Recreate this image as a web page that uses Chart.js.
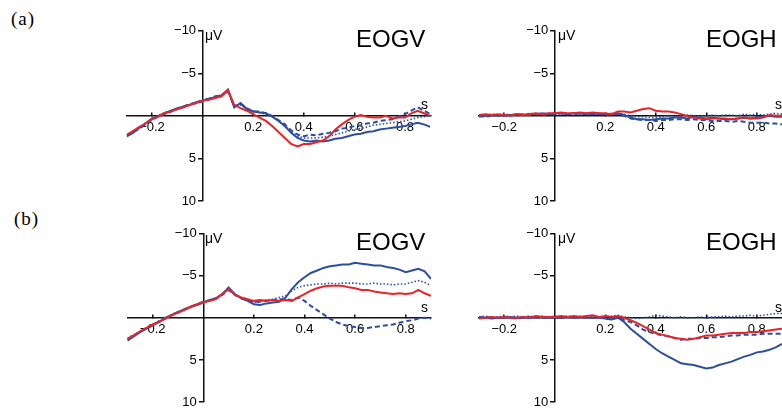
<!DOCTYPE html>
<html lang="en">
<head>
  <meta charset="UTF-8">
  <title>EOGV / EOGH</title>
  <style>
    body {
      margin: 0;
      background: #fff;
      width: 782px;
      height: 412px;
      position: relative;
      overflow: hidden;
      font-family: "Liberation Sans", Arial, sans-serif;
    }
    canvas { position: absolute; }
    .lbl { position: absolute; line-height: 1; white-space: nowrap; color: #000; }
    .panel { font-family: "Liberation Serif", "Times New Roman", serif; font-size: 19px; letter-spacing: 1px; }
    .title { font-size: 24px; }
    .unit { font-size: 14px; }
  </style>
</head>
<body>

  <canvas id="aV" width="340" height="205" style="left:100px; top:10px;"></canvas>
  <canvas id="aH" width="337" height="205" style="left:445px; top:10px;"></canvas>
  <canvas id="bV" width="340" height="197" style="left:100px; top:215px;"></canvas>
  <canvas id="bH" width="337" height="197" style="left:445px; top:215px;"></canvas>

  <div class="lbl panel" style="left:11px; top:9px;">(a)</div>
  <div class="lbl panel" style="left:14px; top:209px;">(b)</div>

  <div class="lbl title" style="left:356px; top:27px;">EOGV</div>
  <div class="lbl title" style="left:706px; top:27px;">EOGH</div>
  <div class="lbl title" style="left:356px; top:230px;">EOGV</div>
  <div class="lbl title" style="left:706px; top:230px;">EOGH</div>

  <div class="lbl unit" style="left:205px; top:28px;">μV</div>
  <div class="lbl unit" style="left:558px; top:28px;">μV</div>
  <div class="lbl unit" style="left:205px; top:231px;">μV</div>
  <div class="lbl unit" style="left:558px; top:231px;">μV</div>

  <div class="lbl unit" style="left:421px; top:97px;">s</div>
  <div class="lbl unit" style="left:775px; top:97px;">s</div>
  <div class="lbl unit" style="left:421px; top:300px;">s</div>
  <div class="lbl unit" style="left:775px; top:300px;">s</div>

  <script src="https://cdn.jsdelivr.net/npm/chart.js"></script>

  <script>
    // time axis (s)
    const times = [-0.3, -0.275, -0.25, -0.225, -0.2, -0.175, -0.15, -0.125, -0.1, -0.075, -0.05, -0.025,
      0, 0.025, 0.05, 0.075, 0.1, 0.125, 0.15, 0.175, 0.2, 0.225, 0.25, 0.275,
      0.3, 0.325, 0.35, 0.375, 0.4, 0.425, 0.45, 0.475, 0.5, 0.525, 0.55, 0.575,
      0.6, 0.625, 0.65, 0.675, 0.7, 0.725, 0.75, 0.775, 0.8, 0.825, 0.85, 0.875, 0.9];

    const xTicks = [-0.2, 0.2, 0.4, 0.6, 0.8];
    const xTickLabels = ['\u22120.2', '0.2', '0.4', '0.6', '0.8'];
    const yTicks = [-10, -5, 5, 10];
    // en space at the end keeps the label clear of the axis line
    const yTickLabels = ['\u221210\u2002', '\u22125\u2002', '5\u2002', '10\u2002'];

    // (a) EOGV, µV
    const aV_red = [2.2, 1.8, 1.3, 0.9, 0.4, 0.1, -0.3, -0.5, -0.8, -1.0, -1.3, -1.5,
      -1.8, -1.9, -2.1, -2.3, -3.0, -1.3, -0.9, -0.6, -0.2, 0.2, 0.6, 1.2,
      1.9, 2.6, 3.3, 3.6, 3.3, 3.3, 3.1, 2.9, 2.4, 1.6, 1.0, 0.5,
      0.1, -0.1, 0.1, 0.2, 0.2, 0.0, 0.3, 0.2, 0.2, -0.3, -0.6, -0.3, 0.0];
    const aV_solid = [2.4, 2.0, 1.4, 0.9, 0.3, 0.0, -0.3, -0.6, -0.9, -1.1, -1.3, -1.6,
      -1.8, -2.0, -2.2, -2.4, -3.1, -1.0, -1.5, -0.8, -0.5, -0.4, -0.3, 0.1,
      0.6, 1.2, 2.0, 2.6, 2.9, 3.0, 2.9, 3.0, 2.9, 2.7, 2.6, 2.4,
      2.2, 2.1, 1.9, 1.8, 1.6, 1.5, 1.4, 1.3, 1.2, 1.0, 0.8, 1.0, 1.3];
    const aV_dashed = [2.3, 1.9, 1.5, 1.0, 0.4, 0.1, -0.2, -0.5, -0.8, -1.1, -1.4, -1.5,
      -1.7, -2.0, -2.3, -2.4, -3.0, -1.1, -1.4, -0.9, -0.5, -0.5, -0.3, 0.0,
      0.5, 1.0, 1.7, 2.2, 2.4, 2.2, 2.3, 2.1, 2.0, 1.8, 1.5, 1.4,
      1.2, 1.1, 0.9, 0.8, 0.6, 0.5, 0.4, 0.1, -0.2, -0.6, -1.0, -0.6, -0.2];
    const aV_dotted = [2.3, 1.8, 1.4, 0.8, 0.4, 0.0, -0.4, -0.6, -0.8, -1.0, -1.3, -1.6,
      -1.9, -2.0, -2.2, -2.5, -2.9, -1.2, -1.3, -0.8, -0.6, -0.4, -0.2, 0.1,
      0.6, 1.2, 1.9, 2.4, 2.6, 2.6, 2.6, 2.5, 2.4, 2.2, 2.0, 1.8,
      1.6, 1.5, 1.3, 1.1, 1.0, 0.9, 0.8, 0.7, 0.6, 0.4, 0.2, 0.1, 0.0];

    // (a) EOGH
    const aH_red = [-0.1, -0.2, -0.1, -0.2, -0.1, 0.0, -0.2, -0.1, -0.2, -0.3, -0.2, -0.3,
      -0.3, -0.4, -0.3, -0.3, -0.4, -0.3, -0.4, -0.3, -0.3, -0.2, -0.5, -0.5,
      -0.4, -0.6, -0.8, -0.9, -0.6, -0.5, -0.5, -0.4, -0.2, 0.0, 0.2, 0.3,
      0.4, 0.3, 0.3, 0.3, 0.4, 0.3, 0.2, 0.3, 0.3, 0.2, -0.1, 0.0, 0.0];
    const aH_solid = [0.1, 0.0, -0.1, 0.0, -0.1, -0.1, -0.2, -0.1, -0.2, -0.2, -0.3, -0.2,
      -0.3, -0.3, -0.2, -0.3, -0.3, -0.2, -0.3, -0.2, -0.2, -0.2, -0.3, -0.1,
      0.2, 0.4, 0.4, 0.5, 0.4, 0.3, 0.3, 0.2, 0.2, 0.3, 0.1, 0.2,
      0.3, 0.2, 0.3, 0.4, 0.4, 0.3, 0.2, 0.3, 0.2, 0.1, 0.0, 0.1, 0.1];
    const aH_dashed = [0.0, 0.1, 0.0, -0.1, 0.0, -0.1, -0.1, -0.2, -0.1, -0.2, -0.1, -0.2,
      -0.2, -0.3, -0.2, -0.2, -0.3, -0.2, -0.2, -0.3, -0.1, -0.2, -0.2, 0.0,
      0.3, 0.4, 0.5, 0.5, 0.6, 0.5, 0.5, 0.4, 0.4, 0.5, 0.4, 0.5,
      0.5, 0.6, 0.6, 0.6, 0.7, 0.6, 0.7, 0.8, 0.8, 0.8, 0.9, 0.9, 1.0];
    const aH_dotted = [-0.1, 0.0, -0.2, -0.1, -0.2, -0.1, -0.2, -0.1, -0.3, -0.2, -0.2, -0.3,
      -0.2, -0.3, -0.2, -0.3, -0.2, -0.3, -0.2, -0.3, -0.2, -0.3, -0.2, -0.2,
      0.0, 0.1, 0.1, 0.2, 0.2, 0.1, 0.0, 0.1, 0.0, -0.1, 0.0, 0.0,
      0.0, -0.1, 0.0, -0.1, -0.1, 0.0, -0.2, -0.1, -0.2, -0.1, -0.2, -0.3, -0.2];

    // (b) EOGV
    const bV_red = [2.5, 2.1, 1.6, 1.2, 0.8, 0.5, 0.1, -0.3, -0.6, -0.9, -1.3, -1.6,
      -1.8, -2.0, -2.2, -2.8, -3.4, -2.7, -2.4, -2.2, -2.0, -2.1, -2.0, -2.1,
      -2.0, -2.1, -2.0, -2.4, -2.8, -3.2, -3.5, -3.7, -3.8, -3.8, -3.8, -3.6,
      -3.5, -3.3, -3.3, -3.1, -3.0, -2.9, -2.8, -2.9, -2.8, -2.9, -3.3, -2.9, -2.6];
    const bV_solid = [2.7, 2.2, 1.7, 1.3, 0.9, 0.5, 0.0, -0.3, -0.7, -1.0, -1.3, -1.5,
      -1.8, -2.1, -2.3, -2.8, -3.6, -2.8, -2.3, -2.0, -1.6, -1.5, -1.7, -1.8,
      -1.9, -2.4, -3.4, -4.2, -4.8, -5.3, -5.6, -5.9, -6.1, -6.2, -6.3, -6.3,
      -6.5, -6.4, -6.3, -6.2, -6.2, -6.0, -5.9, -5.7, -5.4, -5.6, -5.8, -5.5, -4.6];
    const bV_dashed = [2.6, 2.1, 1.7, 1.2, 0.9, 0.4, 0.1, -0.3, -0.6, -1.0, -1.3, -1.6,
      -1.9, -2.0, -2.3, -2.7, -3.3, -2.7, -2.3, -2.1, -1.9, -1.9, -2.0, -2.1,
      -2.2, -2.2, -2.1, -2.4, -2.0, -1.4, -0.9, -0.4, 0.1, 0.5, 0.8, 1.0,
      1.1, 1.2, 1.2, 1.1, 1.0, 0.9, 0.8, 0.6, 0.4, 0.3, 0.1, 0.0, 0.1];
    const bV_dotted = [2.4, 2.0, 1.6, 1.3, 0.8, 0.4, 0.1, -0.4, -0.7, -1.0, -1.2, -1.5,
      -1.9, -2.1, -2.2, -2.9, -3.4, -2.7, -2.4, -2.2, -1.8, -1.9, -2.1, -2.2,
      -2.4, -2.6, -3.2, -3.6, -3.8, -3.9, -4.0, -4.0, -4.1, -4.0, -4.1, -4.1,
      -4.1, -4.0, -4.0, -4.1, -4.0, -4.0, -3.9, -4.0, -4.0, -4.2, -4.4, -4.2, -3.8];

    // (b) EOGH
    const bH_red = [0.1, 0.0, -0.1, 0.0, -0.1, 0.0, 0.0, -0.1, 0.0, -0.2, -0.1, -0.1,
      -0.1, -0.2, -0.1, -0.2, -0.1, -0.2, -0.3, -0.1, -0.2, -0.1, -0.2, 0.0,
      0.3, 0.6, 1.0, 1.4, 1.8, 2.0, 2.2, 2.4, 2.5, 2.6, 2.5, 2.3,
      2.1, 2.1, 2.0, 1.9, 1.8, 1.8, 1.8, 1.7, 1.7, 1.6, 1.5, 1.4, 1.3];
    const bH_solid = [-0.1, 0.0, 0.1, 0.0, 0.0, -0.1, 0.0, 0.0, -0.1, 0.0, -0.1, 0.0,
      0.0, 0.0, -0.1, 0.0, -0.1, 0.0, 0.0, 0.0, 0.1, 0.2, 0.0, 0.5,
      1.3, 1.9, 2.5, 3.1, 3.7, 4.2, 4.6, 5.0, 5.4, 5.5, 5.6, 5.8,
      6.0, 5.9, 5.6, 5.4, 5.2, 4.9, 4.6, 4.4, 4.1, 4.0, 3.8, 3.5, 3.1];
    const bH_dashed = [0.0, -0.1, 0.0, 0.0, -0.1, 0.0, 0.1, 0.0, 0.0, -0.1, 0.0, 0.0,
      -0.1, 0.0, -0.1, -0.1, 0.0, -0.1, 0.0, -0.1, 0.1, 0.2, -0.2, 0.3,
      0.5, 0.9, 1.4, 1.7, 1.9, 2.1, 2.2, 2.4, 2.6, 2.5, 2.5, 2.4,
      2.4, 2.3, 2.3, 2.2, 2.1, 2.1, 2.0, 2.0, 2.0, 1.9, 1.9, 1.9, 1.9];
    const bH_dotted = [-0.1, -0.2, 0.0, -0.1, -0.2, -0.1, -0.2, -0.1, -0.2, -0.1, -0.2, -0.1,
      -0.2, -0.1, -0.2, -0.1, -0.2, -0.1, -0.2, -0.1, -0.1, -0.2, -0.3, -0.1,
      0.0, 0.1, 0.0, -0.1, -0.3, -0.2, -0.1, 0.0, -0.1, 0.0, 0.0, -0.1,
      0.0, -0.1, -0.1, -0.2, -0.1, -0.2, -0.2, -0.3, -0.2, -0.3, -0.4, -0.5, -0.5];

    const RED = 'rgb(232, 36, 40)';
    const BLUE = 'rgb(44, 78, 162)';
    const AXIS = '#111';
    const tickFont = { family: '"Liberation Sans", Arial, sans-serif', size: 13 };

    function pts(values) {
      return values.map((v, i) => ({ x: times[i], y: v }));
    }

    function makePanel(id, red, solid, dashed, dotted, padding) {
      const ctx = document.getElementById(id).getContext('2d');
      return new Chart(ctx, {
        type: 'line',
        data: {
          datasets: [
            { data: pts(red), borderColor: RED, borderWidth: 2 },
            { data: pts(solid), borderColor: BLUE, borderWidth: 2 },
            { data: pts(dashed), borderColor: BLUE, borderWidth: 2, borderDash: [5, 3] },
            { data: pts(dotted), borderColor: BLUE, borderWidth: 1.6, borderDash: [1.5, 2] }
          ]
        },
        options: {
          responsive: false,
          animation: false,
          devicePixelRatio: 1,
          layout: { padding: padding },
          elements: { point: { radius: 0 }, line: { tension: 0, fill: false } },
          plugins: { legend: { display: false }, tooltip: { enabled: false } },
          scales: {
            x: {
              type: 'linear',
              min: -0.3,
              max: 0.9,
              position: { y: 0 },
              afterBuildTicks: s => { s.ticks = xTicks.map(v => ({ value: v })); },
              ticks: {
                autoSkip: false,
                maxRotation: 0,
                padding: 8,
                color: '#000',
                font: tickFont,
                callback: v => xTickLabels[xTicks.indexOf(v)]
              },
              grid: { drawOnChartArea: false, drawTicks: true, tickLength: -4, color: AXIS, lineWidth: 1.5 },
              border: { color: AXIS, width: 1.5 }
            },
            y: {
              type: 'linear',
              reverse: true,
              min: -10,
              max: 10,
              position: { x: 0 },
              afterBuildTicks: s => { s.ticks = yTicks.map(v => ({ value: v })); },
              ticks: {
                autoSkip: false,
                padding: 2,
                color: '#000',
                font: tickFont,
                callback: v => yTickLabels[yTicks.indexOf(v)]
              },
              grid: { drawOnChartArea: false, drawTicks: true, tickLength: 4, color: AXIS, lineWidth: 1.5 },
              border: { color: AXIS, width: 1.5 }
            }
          }
        }
      });
    }

    makePanel('aV', aV_red, aV_solid, aV_dashed, aV_dotted, { left: 26.7, top: 20.7, right: 9.7, bottom: 14 });
    makePanel('aH', aH_red, aH_solid, aH_dashed, aH_dotted, { left: 34, top: 20.7, right: 0, bottom: 14 });
    makePanel('bV', bV_red, bV_solid, bV_dashed, bV_dotted, { left: 27.4, top: 18.3, right: 9, bottom: 9.3 });
    makePanel('bH', bH_red, bH_solid, bH_dashed, bH_dotted, { left: 34, top: 18.3, right: 0, bottom: 9.3 });
  </script>

</body>
</html>
